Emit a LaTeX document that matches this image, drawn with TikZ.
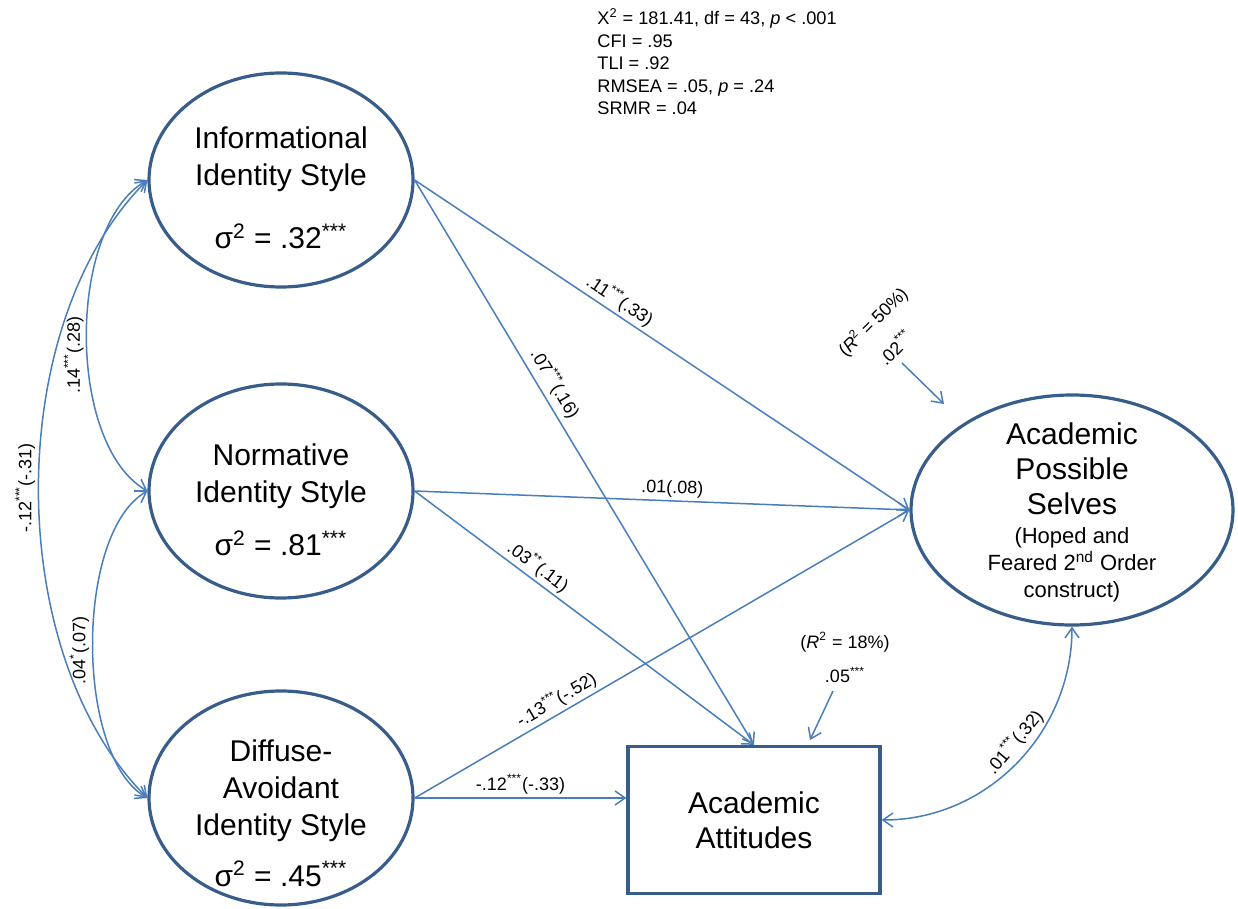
\documentclass[tikz,border=0pt]{standalone}
\usepackage{fontspec}
\setmainfont{Liberation Sans}
\usetikzlibrary{arrows.meta,shapes.geometric}
\definecolor{pathblue}{RGB}{74,126,187}
\definecolor{rimblue}{RGB}{56,93,138}

\begin{document}
\begin{tikzpicture}[x=0.5pt,y=-0.5pt,
	latent/.style={ellipse,draw=rimblue,line width=1.6pt,inner sep=0pt,minimum width=132pt,minimum height=107pt},
	observed/.style={rectangle,draw=rimblue,line width=1.6pt,minimum width=126pt,minimum height=73.5pt,align=center,font=\fontsize{15}{17.5}\selectfont},
	bigtext/.style={align=center,inner sep=0pt,font=\fontsize{15}{18.5}\selectfont},
	regpath/.style={draw=pathblue,line width=0.75pt,-{Straight Barb[length=5pt,width=7pt]}},
	covpath/.style={draw=pathblue,line width=0.75pt,{Straight Barb[length=5pt,width=7pt]}-{Straight Barb[length=5pt,width=7pt]}},
	coef/.style={inner sep=1.5pt,font=\fontsize{9}{11}\selectfont},
	upcoef/.style={coef,rotate=90,anchor=south}]
	\useasboundingbox (0,0) rectangle (1238,909);
	% latent factors
	\node[latent] (info) at (281,180) {};
	\node[latent] (norm) at (281,491) {};
	\node[latent] (diff) at (281,798) {};
	\node[latent,minimum width=161pt,minimum height=115pt] (aps) at (1072,510) {};
	\node[bigtext] (infotext) at (281,188) {Informational\\Identity Style\\[13pt]σ\textsuperscript{2} = .32\textsuperscript{***}};
	\node[bigtext] (normtext) at (281,500) {Normative\\Identity Style\\[8pt]σ\textsuperscript{2} = .81\textsuperscript{***}};
	\node[bigtext] (difftext) at (281,813) {Diffuse-\\Avoidant\\Identity Style\\[7pt]σ\textsuperscript{2} = .45\textsuperscript{***}};
	\node[bigtext,font=\fontsize{15}{17.5}\selectfont] (apstext) at (1072,469) {Academic\\Possible\\Selves};
	\node[bigtext,font=\fontsize{11}{13.5}\selectfont] (apsnote) at (1072,565) {(Hoped and\\Feared 2\textsuperscript{nd} Order\\construct)};
	\node[observed] (att) at (754,820) {Academic\\Attitudes};
	\node[anchor=north west,align=left,inner sep=0pt,font=\fontsize{9.1}{11.2}\selectfont] (fit) at (597,8)
		{X\textsuperscript{2} = 181.41, df = 43, \textit{p} < .001\\CFI = .95\\TLI = .92\\RMSEA = .05, \textit{p} = .24\\SRMR = .04};
	% paths
	\draw[regpath] (info.east) -- node[coef,sloped,above,pos=0.4] {.11\textsuperscript{***}(.33)} (aps.west);
	\draw[regpath] (info.east) -- node[coef,sloped,above=1pt,pos=0.375] {.07\textsuperscript{***}(.16)} (att.north);
	\draw[regpath] (norm.east) -- node[coef,sloped,above,pos=0.52] {.01(.08)} (aps.west);
	\draw[regpath] (norm.east) -- node[coef,sloped,above,pos=0.34] {.03\textsuperscript{**}(.11)} (att.north);
	\draw[regpath] (diff.east) -- node[coef,sloped,above,pos=0.3] {-.13\textsuperscript{***}(-.52)} (aps.west);
	\draw[regpath] (diff.east) -- node[coef,above,pos=0.5] {-.12\textsuperscript{***}(-.33)} (diff.east -| att.west);
	% covariances
	\draw[covpath] (norm.west) to[out=150,in=210,looseness=0.77] node[upcoef,pos=0.45] {.14\textsuperscript{***}(.28)} (info.west);
	\draw[covpath] (diff.west) to[out=150,in=210,looseness=0.7] node[upcoef,yshift=0pt,xshift=-3pt,pos=0.5] {.04\textsuperscript{*}(.07)} (norm.west);
	\draw[covpath] (diff.west) to[out=135,in=225,looseness=0.85] node[upcoef,xshift=-3pt,pos=0.51] {-.12\textsuperscript{***}(-.31)} (info.west);
	\draw[covpath] (att.east) to[out=0,in=270] node[coef,sloped,above=1pt,pos=0.55] {.01\textsuperscript{***}(.32)} (aps.south);
	% residuals
	\coordinate (apsres) at (902,363);
	\coordinate (apsrestip) at (944,404);
	\coordinate (attres) at (833,691);
	\coordinate (attrestip) at (810,740);
	\draw[regpath] (apsres) -- (apsrestip);
	\draw[regpath] (attres) -- (attrestip);
	\node[coef,rotate=45] (apsr2) at (873,322) {(\textit{R}\textsuperscript{2} = 50\%)};
	\node[coef,rotate=45] (apsvar) at (895,347) {.02\textsuperscript{***}};
	\node[coef] (attr2) at (845,642) {(\textit{R}\textsuperscript{2} = 18\%)};
	\node[coef] (attvar) at (845,675) {.05\textsuperscript{***}};
\end{tikzpicture}
\end{document}
